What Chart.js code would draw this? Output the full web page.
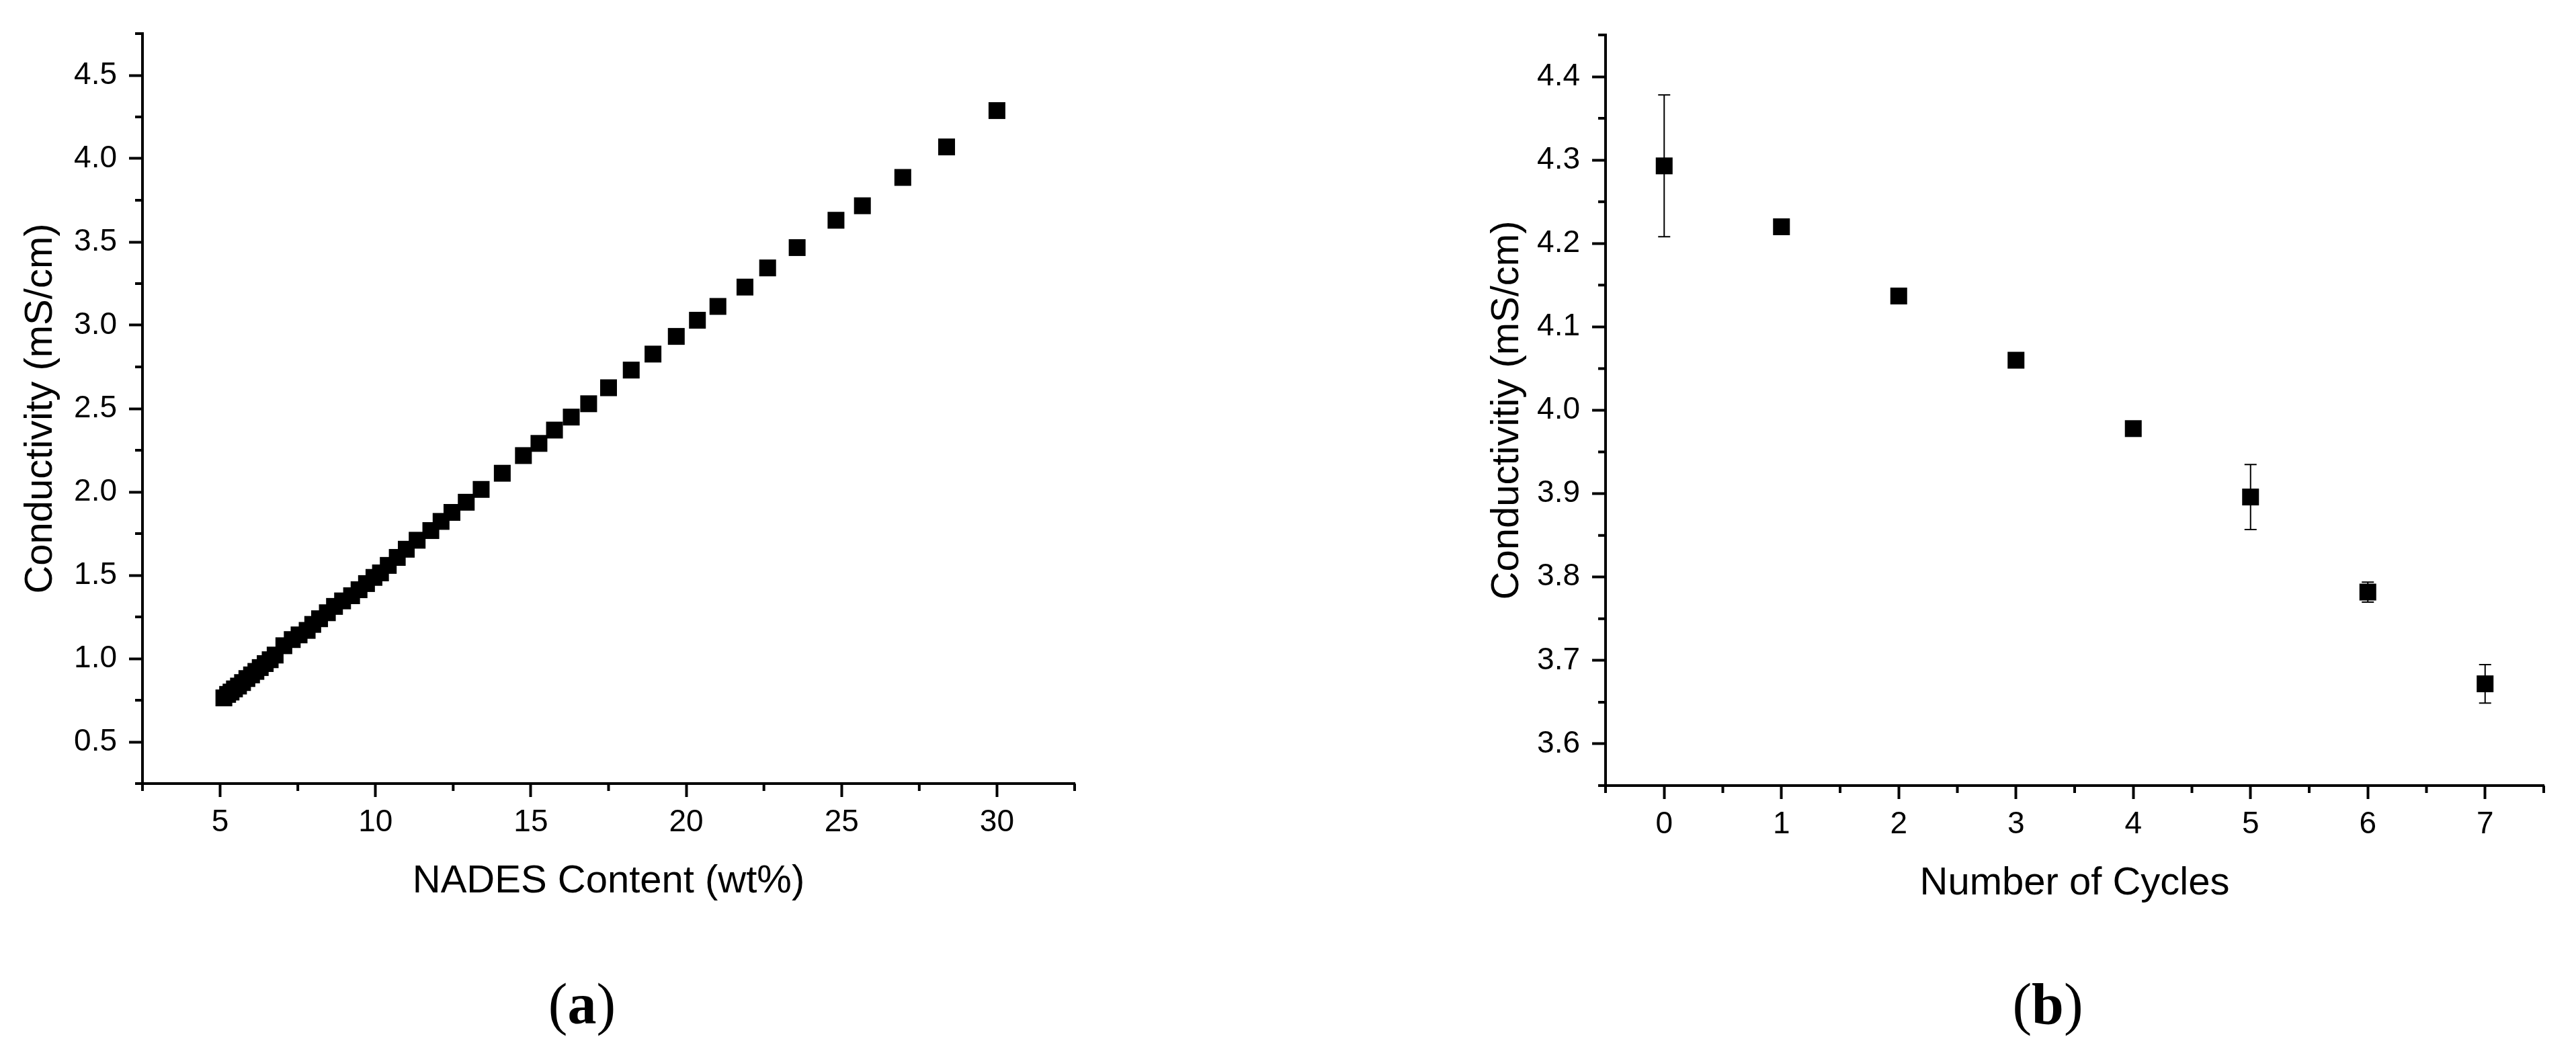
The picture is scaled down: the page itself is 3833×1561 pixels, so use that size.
<!DOCTYPE html>
<html>
<head>
<meta charset="utf-8">
<script src="https://cdn.jsdelivr.net/npm/chart.js@4.4.0/dist/chart.umd.min.js"></script>
<style>
    html, body { margin: 0; padding: 0; background: #fff; }
    body { width: 3833px; height: 1561px; position: relative; overflow: hidden; }
    .panel { position: absolute; top: 0; height: 1561px; }
    .tag { position: absolute; width: 400px; top: 1451px; text-align: center; color: #000;
           font-family: "Liberation Serif", "Times New Roman", serif; font-size: 86px; line-height: 86px; }
</style>
</head>
<body>
<div class="panel" style="left:0;width:1916px"><canvas id="chartA" width="1916" height="1561"></canvas></div>
<div class="panel" style="left:1916px;width:1917px"><canvas id="chartB" width="1917" height="1561"></canvas></div>
<div class="tag" style="left:666px">(<b>a</b>)</div>
<div class="tag" style="left:2847px">(<b>b</b>)</div>
<script>
// (a) conductivity vs NADES content
const nadesContent = [5.12, 5.24, 5.35, 5.46, 5.59, 5.72, 5.86, 6.01, 6.15, 6.29,
    6.45, 6.61, 6.77, 7.05, 7.32, 7.54, 7.80, 7.98, 8.20, 8.45,
    8.68, 8.94, 9.23, 9.47, 9.71, 9.95, 10.16, 10.41, 10.70, 10.99,
    11.34, 11.78, 12.11, 12.46, 12.92, 13.40, 14.08, 14.76, 15.26, 15.76,
    16.30, 16.86, 17.50, 18.23, 18.93, 19.68, 20.36, 21.02, 21.89, 22.62,
    23.57, 24.82, 25.67, 26.97, 28.38, 30.00]
const conductivityA = [0.764, 0.785, 0.799, 0.818, 0.835, 0.856, 0.880, 0.902, 0.923, 0.946,
    0.970, 0.993, 1.021, 1.077, 1.114, 1.142, 1.169, 1.205, 1.239, 1.275,
    1.313, 1.346, 1.377, 1.413, 1.450, 1.487, 1.514, 1.559, 1.607, 1.656,
    1.710, 1.768, 1.823, 1.877, 1.938, 2.015, 2.112, 2.218, 2.291, 2.371,
    2.449, 2.529, 2.625, 2.731, 2.827, 2.933, 3.030, 3.113, 3.229, 3.344,
    3.466, 3.630, 3.717, 3.887, 4.070, 4.288]

// (b) conductivity vs number of cycles
const cycles = [0, 1, 2, 3, 4, 5, 6, 7]
const conductivityB = [4.293, 4.220, 4.137, 4.060, 3.978, 3.896, 3.782, 3.672]
const errorB = [0.085, 0.004, 0.004, 0.004, 0.005, 0.039, 0.012, 0.023]

// tick labels
const xTicksA = [5, 10, 15, 20, 25, 30]
const xMinorA = [2.5, 7.5, 12.5, 17.5, 22.5, 27.5, 32.5]
const yTicksA = [0.5, 1.0, 1.5, 2.0, 2.5, 3.0, 3.5, 4.0, 4.5]
const yMinorA = [0.25, 0.75, 1.25, 1.75, 2.25, 2.75, 3.25, 3.75, 4.25, 4.75]
const xTicksB = [0, 1, 2, 3, 4, 5, 6, 7]
const xMinorB = [-0.5, 0.5, 1.5, 2.5, 3.5, 4.5, 5.5, 6.5, 7.5]
const yTicksB = [3.6, 3.7, 3.8, 3.9, 4.0, 4.1, 4.2, 4.3, 4.4]
const yMinorB = [3.55, 3.65, 3.75, 3.85, 3.95, 4.05, 4.15, 4.25, 4.35, 4.45]

const SANS = "'Liberation Sans', Arial, sans-serif"
Chart.defaults.font.family = SANS
Chart.defaults.color = '#000'

// short minor ticks outside the axes
const minorTicks = {
    id: 'minorTicks',
    afterDraw(chart, args, opts) {
        const ctx = chart.ctx
        const area = chart.chartArea
        ctx.save()
        ctx.strokeStyle = '#000'
        ctx.lineWidth = 4
        ctx.beginPath()
        opts.x.forEach(v => {
            let p = chart.scales.x.getPixelForValue(v)
            ctx.moveTo(p, area.bottom)
            ctx.lineTo(p, area.bottom + 11)
        })
        opts.y.forEach(v => {
            let p = chart.scales.y.getPixelForValue(v)
            ctx.moveTo(area.left, p)
            ctx.lineTo(area.left - 11, p)
        })
        ctx.stroke()
        ctx.restore()
    }
}

// vertical error bars with caps
const errorBars = {
    id: 'errorBars',
    beforeDatasetsDraw(chart, args, opts) {
        if (!opts.err) return
        const ctx = chart.ctx
        const pts = chart.data.datasets[0].data
        ctx.save()
        ctx.strokeStyle = '#000'
        ctx.lineWidth = 2
        ctx.beginPath()
        pts.forEach((pt, i) => {
            let px = chart.scales.x.getPixelForValue(pt.x)
            let hi = chart.scales.y.getPixelForValue(pt.y + opts.err[i])
            let lo = chart.scales.y.getPixelForValue(pt.y - opts.err[i])
            ctx.moveTo(px, hi); ctx.lineTo(px, lo)
            ctx.moveTo(px - 9, hi); ctx.lineTo(px + 9, hi)
            ctx.moveTo(px - 9, lo); ctx.lineTo(px + 9, lo)
        })
        ctx.stroke()
        ctx.restore()
    }
}

function makeChart(id, p) {
    let ctx = document.getElementById(id).getContext('2d')
    return new Chart(ctx, {
        type: 'scatter',
        data: {
            datasets: [{
                data: p.xs.map((x, i) => ({x: x, y: p.ys[i]})),
                pointStyle: 'rect',
                pointRadius: 17.7,
                backgroundColor: '#000',
                borderColor: '#000',
                borderWidth: 0,
                showLine: false
            }]
        },
        options: {
            responsive: false,
            animation: false,
            events: [],
            layout: {padding: p.padding},
            plugins: {
                legend: {display: false},
                tooltip: {enabled: false},
                minorTicks: {x: p.xMinor, y: p.yMinor},
                errorBars: {err: p.err}
            },
            scales: {
                x: {
                    type: 'linear',
                    min: p.xMin,
                    max: p.xMax,
                    afterBuildTicks: s => { s.ticks = p.xTicks.map(v => ({value: v})) },
                    afterFit: s => { s.height = 200 },
                    border: {display: true, color: '#000', width: 4},
                    grid: {drawOnChartArea: false, drawTicks: true, tickLength: 20, tickWidth: 4, tickColor: '#000'},
                    ticks: {font: {size: 46}, padding: 11, maxRotation: 0, autoSkip: false,
                            callback: v => String(v)},
                    title: {display: true, text: p.xTitle, font: {size: 58}, padding: {top: 0, bottom: 19}}
                },
                y: {
                    type: 'linear',
                    min: p.yMin,
                    max: p.yMax,
                    afterBuildTicks: s => { s.ticks = p.yTicks.map(v => ({value: v})) },
                    afterFit: s => { s.width = p.yWidth },
                    border: {display: true, color: '#000', width: 4},
                    grid: {drawOnChartArea: false, drawTicks: true, tickLength: 20, tickWidth: 4, tickColor: '#000'},
                    ticks: {font: {size: 46}, padding: 18, autoSkip: false,
                            callback: v => v.toFixed(1)},
                    title: {display: true, text: p.yTitle, font: {size: 58}, padding: {top: p.yTitlePad, bottom: 0}}
                }
            }
        },
        plugins: [minorTicks, errorBars]
    })
}

makeChart('chartA', {
    xs: nadesContent, ys: conductivityA, err: null,
    xMin: 2.5, xMax: 32.5, yMin: 0.25, yMax: 4.75,
    xTicks: xTicksA, yTicks: yTicksA, xMinor: xMinorA, yMinor: yMinorA,
    xTitle: 'NADES Content (wt%)', yTitle: 'Conductivity (mS/cm)',
    padding: {left: 0, top: 50, right: 317, bottom: 195},
    yWidth: 212, yTitlePad: 26
})

makeChart('chartB', {
    xs: cycles, ys: conductivityB, err: errorB,
    xMin: -0.5, xMax: 7.5, yMin: 3.55, yMax: 4.45,
    xTicks: xTicksB, yTicks: yTicksB, xMinor: xMinorB, yMinor: yMinorB,
    xTitle: 'Number of Cycles', yTitle: 'Conductivitiy (mS/cm)',
    padding: {left: 0, top: 52, right: 48, bottom: 192},
    yWidth: 473, yTitlePad: 292
})
</script>
</body>
</html>
